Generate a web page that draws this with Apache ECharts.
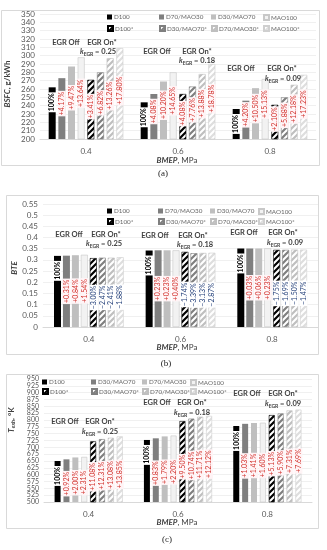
<!DOCTYPE html>
<html><head><meta charset="utf-8">
<script src="https://cdn.jsdelivr.net/npm/echarts@6/dist/echarts.min.js"></script>
<style>html,body{margin:0;padding:0;background:#fff}#c{width:327px;height:550px}</style>
</head><body><div id="c"></div>
<script>
// ---------- DATA ----------
const categories = ['0.4', '0.6', '0.8'];

// (a) BSFC, g/kWh
const legendA = ['D100', 'D70/MAO30', 'D30/MAO70', 'MAO100', 'D100*', 'D30/MAO70*', 'D70/MAO30*', 'MAO100*'];
const bsfcD100     = [262, 244, 236];
const bsfcD70MAO30 = [273, 254, 246];
const bsfcD30MAO70 = [287, 269, 261];
const bsfcMAO100   = [298, 280, 272];
const bsfcD100s    = [271, 254, 241];
const bsfcD30MAO70s= [280, 263, 250];
const bsfcD70MAO30s= [297, 278, 265];
const bsfcMAO100s  = [309, 290, 277];
const bsfcPctD100     = ['100%', '100%', '100%'];
const bsfcPctD70MAO30 = ['+4.17%', '+4.08%', '+4.20%'];
const bsfcPctD30MAO70 = ['+9.47%', '+10.20%', '+10.50%'];
const bsfcPctMAO100   = ['+13.64%', '+14.65%', '+15.13%'];
const bsfcPctD100s    = ['+3.41%', '+4.08%', '+2.10%'];
const bsfcPctD30MAO70s= ['+6.82%', '+7.76%', '+5.88%'];
const bsfcPctD70MAO30s= ['+13.26%', '+13.88%', '+12.18%'];
const bsfcPctMAO100s  = ['+17.80%', '+18.78%', '+17.23%'];

// (b) BTE
const legendB = ['D100', 'D70/MAO30', 'D30/MAO70', 'MAO100', 'D100*', 'D30/MAO70*', 'D70/MAO30*', 'MAO100*'];
const bteD100     = [0.318, 0.342, 0.351];
const bteD70MAO30 = [0.319, 0.343, 0.351];
const bteD30MAO70 = [0.321, 0.343, 0.351];
const bteMAO100   = [0.323, 0.343, 0.352];
const bteD100s    = [0.308, 0.336, 0.345];
const bteD30MAO70s= [0.310, 0.330, 0.345];
const bteD70MAO30s= [0.310, 0.331, 0.346];
const bteMAO100s  = [0.312, 0.332, 0.346];
const btePctD100     = ['100%', '100%', '100%'];
const btePctD70MAO30 = ['+0.31%', '+0.23%', '+0.03%'];
const btePctD30MAO70 = ['+0.84%', '+0.23%', '+0.06%'];
const btePctMAO100   = ['+1.54%', '+0.40%', '+0.23%'];
const btePctD100s    = ['\u22123.00%', '\u22121.74%', '\u22121.75%'];
const btePctD30MAO70s= ['\u22122.47%', '\u22123.39%', '\u22121.69%'];
const btePctD70MAO30s= ['\u22122.41%', '\u22123.13%', '\u22121.50%'];
const btePctMAO100s  = ['\u22121.88%', '\u22122.87%', '\u22121.47%'];

// (c) T_exh, K
const legendC = ['D100', 'D30/MAO70', 'D70/MAO30', 'MAO100', 'D100*', 'D30/MAO70*', 'D70/MAO30*', 'MAO100*'];
const texhD100     = [650, 727, 778];
const texhD30MAO70 = [656, 733, 786];
const texhD70MAO30 = [663, 740, 789];
const texhMAO100   = [665, 743, 790];
const texhD100s    = [722, 796, 818];
const texhD30MAO70s= [730, 805, 824];
const texhD70MAO30s= [735, 812, 835];
const texhMAO100s  = [740, 815, 838];
const texhPctD100     = ['100%', '100%', '100%'];
const texhPctD30MAO70 = ['+0.92%', '+0.83%', '+1.03%'];
const texhPctD70MAO30 = ['+2.00%', '+1.79%', '+1.41%'];
const texhPctMAO100   = ['+2.31%', '+2.20%', '+1.60%'];
const texhPctD100s    = ['+11.08%', '+9.50%', '+5.13%'];
const texhPctD30MAO70s= ['+12.31%', '+10.74%', '+5.90%'];
const texhPctD70MAO30s= ['+13.08%', '+11.71%', '+7.31%'];
const texhPctMAO100s  = ['+13.85%', '+12.12%', '+7.69%'];

const kEgr = ['0.25', '0.18', '0.09'];

// ---------- STYLE ----------
const FONT = 'Lato, "Open Sans", sans-serif';
function hatch(stripe) {
  const s = 6, c = document.createElement('canvas');
  c.width = s; c.height = s;
  const g = c.getContext('2d');
  g.fillStyle = '#fff'; g.fillRect(0, 0, s, s);
  g.strokeStyle = stripe; g.lineWidth = 2.2;
  g.beginPath();
  g.moveTo(-1, s + 1); g.lineTo(s + 1, -1);
  g.moveTo(-s / 2 - 1, s / 2 + 1); g.lineTo(s / 2 + 1, -s / 2 - 1);
  g.moveTo(s / 2 - 1, s * 1.5 + 1); g.lineTo(s * 1.5 + 1, s / 2 - 1);
  g.stroke();
  return { image: c, repeat: 'repeat' };
}
const barStyles = [
  { color: '#000000' },
  { color: '#7f7f7f' },
  { color: '#bfbfbf' },
  { color: '#f2f2f2', borderColor: '#c8c8c8', borderWidth: 0.6 },
  { color: hatch('#000000'), borderColor: '#000000', borderWidth: 0.6 },
  { color: hatch('#7f7f7f'), borderColor: '#7f7f7f', borderWidth: 0.6 },
  { color: hatch('#bfbfbf'), borderColor: '#bfbfbf', borderWidth: 0.6 },
  { color: hatch('#dedede'), borderColor: '#cfcfcf', borderWidth: 0.6 }
];

// label shift (screen px, + = down) for EGR-off / EGR-on labels
const panels = [
  { key: 'a', legend: legendA,
    values: [bsfcD100, bsfcD70MAO30, bsfcD30MAO70, bsfcMAO100, bsfcD100s, bsfcD30MAO70s, bsfcD70MAO30s, bsfcMAO100s],
    pcts: [bsfcPctD100, bsfcPctD70MAO30, bsfcPctD30MAO70, bsfcPctMAO100, bsfcPctD100s, bsfcPctD30MAO70s, bsfcPctD70MAO30s, bsfcPctMAO100s],
    barWidth: 7, barGap: '38%', offOff: -5, onOff: -3 },
  { key: 'b', legend: legendB,
    values: [bteD100, bteD70MAO30, bteD30MAO70, bteMAO100, bteD100s, bteD30MAO70s, bteD70MAO30s, bteMAO100s],
    pcts: [btePctD100, btePctD70MAO30, btePctD30MAO70, btePctMAO100, btePctD100s, btePctD30MAO70s, btePctD70MAO30s, btePctMAO100s],
    barWidth: 7, barGap: '28%', offOff: 0, onOff: 5 },
  { key: 'c', legend: legendC,
    values: [texhD100, texhD30MAO70, texhD70MAO30, texhMAO100, texhD100s, texhD30MAO70s, texhD70MAO30s, texhMAO100s],
    pcts: [texhPctD100, texhPctD30MAO70, texhPctD70MAO30, texhPctMAO100, texhPctD100s, texhPctD30MAO70s, texhPctD70MAO30s, texhPctMAO100s],
    barWidth: 6, barGap: '48%', offOff: 3, onOff: 5 }
];

const grids = [
  { left: 40, top: 14, width: 276, height: 125 },
  { left: 43, top: 204, width: 275, height: 123 },
  { left: 44, top: 379, width: 268, height: 123 }
];
const yAxes = [
  { min: 200, max: 350, interval: 10, fs: 8 },
  { min: 0, max: 0.55, interval: 0.05, fs: 8 },
  { min: 500, max: 950, interval: 25, fs: 7 }
];

const series = [];
panels.forEach((p, gi) => {
  p.legend.forEach((nm, i) => {
    const isBase = i === 0;
    const pcts = p.pcts[i];
    const shift = isBase ? 0 : (i < 4 ? p.offOff : p.onOff);
    series.push({
      type: 'bar', name: nm + '@' + p.key, xAxisIndex: gi, yAxisIndex: gi,
      barWidth: p.barWidth, barGap: p.barGap,
      itemStyle: barStyles[i],
      data: p.values[i].map((v, di) => {
        const t = pcts[di];
        const col = isBase ? '#000' : (t[0] === '+' ? '#d2322d' : '#24407a');
        return {
          value: v,
          label: {
            show: true, rotate: 90, formatter: t,
            position: isBase ? 'insideTop' : 'inside',
            distance: isBase ? 5 : 0,
            offset: [-shift, 0],   // offset is in the rotated text frame
            align: isBase ? 'right' : 'center', verticalAlign: 'middle',
            color: col, fontSize: 7, fontFamily: FONT,
            fontWeight: isBase ? 'bold' : 'normal',
            backgroundColor: (t[0] === '+') ? '#fff4f6' : '#ffffff',
            padding: [1, 1, 0, 1]
          }
        };
      })
    });
  });
});

// legends
const legendCols = [[107, 159, 211, 263], [107, 158, 210, 258], [42, 91, 142, 190]];
const legendRows = [[18, 29], [212, 222], [383, 392]];
const legends = [];
panels.forEach((p, gi) => {
  p.legend.forEach((nm, i) => {
    legends.push({
      data: [nm + '@' + p.key], left: legendCols[gi][i % 4], top: legendRows[gi][Math.floor(i / 4)] - 4,
      padding: 0, itemWidth: 5, itemHeight: 5, itemGap: 0, icon: 'rect', selectedMode: false,
      formatter: n => n.split('@')[0],
      textStyle: { fontSize: 6.3, color: '#666666', fontFamily: FONT, padding: [0, 0, 0, -3] }
    });
  });
});

// graphic
const g = [];
function txt(x, y, text, font, fill, extra) {
  return Object.assign({ type: 'text', x: x, y: y, z: 100,
    style: { text: text, font: font, fill: fill || '#404040', align: 'center', verticalAlign: 'middle' } }, extra || {});
}
function rich(x, y, text, richObj, extra) {
  return Object.assign({ type: 'text', x: x, y: y, z: 100,
    style: { text: text, rich: richObj, align: 'center', verticalAlign: 'middle', fill: '#404040' } }, extra || {});
}
// borders
[[1, 10, 318, 155], [6, 195, 312, 159], [6, 374, 312, 154]].forEach(r => {
  g.push({ type: 'rect', shape: { x: r[0] + 0.5, y: r[1] + 0.5, width: r[2], height: r[3] },
    style: { fill: null, stroke: '#d9d9d9', lineWidth: 1 }, z: 0, silent: true });
});
// captions
const capFont = '9px "Liberation Serif", "DejaVu Serif", serif';
g.push(txt(163, 174, '(a)', capFont, '#222'));
g.push(txt(166, 364, '(b)', capFont, '#222'));
g.push(txt(167, 540, '(c)', capFont, '#222'));
// x names
const xnRich = { b: { fontFamily: FONT, fontSize: 8, fontWeight: 'bold', fontStyle: 'italic', fill: '#404040' },
                 n: { fontFamily: FONT, fontSize: 8, fill: '#404040' } };
[160, 347, 522].forEach(y => g.push(rich(177, y, '{b|BMEP}{n|, MPa}', xnRich)));
// y names
const ynRich = { b: { fontFamily: FONT, fontSize: 8, fontWeight: 'bold', fontStyle: 'italic', fill: '#404040' },
                 n: { fontFamily: FONT, fontSize: 8, fontWeight: 'bold', fill: '#404040' },
                 s: { fontFamily: FONT, fontSize: 5.5, fontWeight: 'bold', fontStyle: 'italic', fill: '#404040', padding: [4, 0, 0, 0] } };
g.push(rich(7, 84, '{b|BSFC}{n|, g/kWh}', ynRich, { rotation: Math.PI / 2 }));
g.push(rich(14, 268, '{b|BTE}', ynRich, { rotation: Math.PI / 2 }));
g.push(rich(11, 420, '{b|T}{s|exh}{n|, °K}', ynRich, { rotation: Math.PI / 2 }));
// EGR annotations
const annFont = 'bold 7.5px ' + FONT;
const kRich = { k: { fontFamily: FONT, fontSize: 7.5, fontWeight: 'bold', fontStyle: 'italic', fill: '#404040' },
                s: { fontFamily: FONT, fontSize: 5, fontWeight: 'bold', fill: '#404040', padding: [4, 0, 0, 0] },
                n: { fontFamily: FONT, fontSize: 7.5, fontWeight: 'bold', fill: '#404040' } };
const ann = [
  [[66, 43], [102, 43], [98, 52]], [[157, 52], [197, 52], [197, 61]], [[241, 69], [282, 69], [283, 79]],
  [[69, 235], [106, 235], [104, 244]], [[155, 236], [193, 236], [195, 245]], [[244, 233], [283, 233], [285, 243]],
  [[65, 422], [100, 422], [100, 432]], [[157, 403], [192, 403], [192, 413]], [[247, 394], [283, 394], [283, 404]]
];
ann.forEach((a, idx) => {
  g.push(txt(a[0][0], a[0][1], 'EGR Off', annFont));
  g.push(txt(a[1][0], a[1][1], 'EGR On*', annFont));
  g.push(rich(a[2][0], a[2][1], '{k|k}{s|EGR}{n| = ' + kEgr[idx % 3] + '}', kRich));
});

const option = {
  animation: false,
  backgroundColor: '#fff',
  grid: grids,
  xAxis: grids.map((_, i) => ({
    type: 'category', gridIndex: i, data: categories,
    axisLine: { lineStyle: { color: '#d9d9d9' } }, axisTick: { show: false },
    axisLabel: { fontSize: 8, color: '#595959', fontFamily: FONT, margin: 8 }
  })),
  yAxis: yAxes.map((y, i) => ({
    type: 'value', gridIndex: i, min: y.min, max: y.max, interval: y.interval,
    axisLine: { show: false }, axisTick: { show: false },
    splitLine: { lineStyle: { color: '#ececec', width: 0.8 } },
    axisLabel: { fontSize: y.fs, color: '#595959', fontFamily: FONT, margin: 5,
      formatter: v => String(+v.toFixed(2)) }
  })),
  legend: legends,
  series: series,
  graphic: g
};
const chart = echarts.init(document.getElementById('c'), null, { renderer: 'canvas' });
chart.setOption(option);
</script></body></html>
